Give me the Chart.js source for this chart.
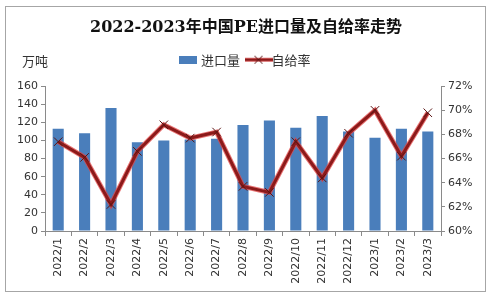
<!DOCTYPE html>
<html>
<head>
<meta charset="utf-8">
<script src="https://cdn.jsdelivr.net/npm/chart.js@4"></script>
<style>
  html, body { margin: 0; padding: 0; background: #ffffff; }
  #wrap { width: 492px; height: 300px; }
</style>
</head>
<body>
<div id="wrap"><canvas id="chart" width="492" height="300"></canvas></div>
<script>
// 2022-2023年中国PE进口量及自给率走势
const months = ['2022/1', '2022/2', '2022/3', '2022/4', '2022/5', '2022/6', '2022/7', '2022/8',
    '2022/9', '2022/10', '2022/11', '2022/12', '2023/1', '2023/2', '2023/3'];
const importVolume = [113, 108, 136, 98, 100, 101, 102, 117, 122, 114, 127, 110, 103, 113, 110]; // 万吨
const selfSufficiency = [67.4, 66.1, 62.2, 66.6, 68.8, 67.7, 68.2, 63.7, 63.2, 67.4, 64.4, 68.1, 70.0, 66.2, 69.8]; // %
const leftTicks = [0, 20, 40, 60, 80, 100, 120, 140, 160];
const rightTicks = [60, 62, 64, 66, 68, 70, 72];

const BAR_BLUE = '#4a7ebb';
const LINE_RED = '#8c1a1a';
const GLOW_RED = 'rgba(225, 70, 70, 0.75)';
const AXIS_GRAY = '#8a8a8a';
const TEXT = '#333333';
const CJK = '"Noto Sans CJK SC", "DejaVu Sans", sans-serif';

// legend icons
function barIcon() {
    const c = document.createElement('canvas');
    c.width = 18; c.height = 8;
    const g = c.getContext('2d');
    g.fillStyle = BAR_BLUE;
    g.fillRect(0, 0, 18, 8);
    return c;
}
function lineIcon() {
    const c = document.createElement('canvas');
    c.width = 28; c.height = 10;
    const g = c.getContext('2d');
    g.strokeStyle = GLOW_RED; g.lineWidth = 4;
    g.beginPath(); g.moveTo(0, 5); g.lineTo(28, 5); g.stroke();
    g.strokeStyle = LINE_RED; g.lineWidth = 2.5;
    g.beginPath(); g.moveTo(0, 5); g.lineTo(28, 5); g.stroke();
    g.strokeStyle = '#5a1414'; g.lineWidth = 1;
    g.beginPath(); g.moveTo(10, 1); g.lineTo(18, 9); g.moveTo(18, 1); g.lineTo(10, 9); g.stroke();
    return c;
}

// extra room under the legend
const legendMargin = {
    id: 'legendMargin',
    beforeInit(chart) {
        const fit = chart.legend.fit;
        chart.legend.fit = function () {
            fit.bind(chart.legend)();
            this.height += 10;
        };
    }
};

const framePlugin = {
    id: 'frame',
    beforeDraw(chart) {
        const ctx = chart.ctx;
        ctx.save();
        ctx.fillStyle = '#ffffff';
        ctx.fillRect(0, 0, chart.width, chart.height);
        ctx.strokeStyle = '#a6a6a6';
        ctx.lineWidth = 1;
        ctx.strokeRect(5.5, 6.5, 480, 285);
        ctx.restore();
    },
    afterDraw(chart) {
        const ctx = chart.ctx;
        ctx.save();
        ctx.fillStyle = TEXT;
        ctx.font = '13px ' + CJK;
        ctx.textBaseline = 'middle';
        ctx.fillText('万吨', 22, 61);
        ctx.restore();
    }
};

new Chart(document.getElementById('chart'), {
    data: {
        labels: months,
        datasets: [
            {
                type: 'line',
                label: '自给率',
                data: selfSufficiency,
                yAxisID: 'y1',
                borderColor: LINE_RED,
                borderWidth: 3,
                pointStyle: 'crossRot',
                pointRadius: 6,
                pointBorderColor: '#5a1414',
                pointBorderWidth: 1,
                tension: 0,
                order: 0
            },
            {
                type: 'line',
                label: '_glow',
                data: selfSufficiency,
                yAxisID: 'y1',
                borderColor: GLOW_RED,
                borderWidth: 5,
                pointRadius: 0,
                tension: 0,
                order: 1
            },
            {
                type: 'bar',
                label: '进口量',
                data: importVolume,
                yAxisID: 'y',
                backgroundColor: BAR_BLUE,
                categoryPercentage: 1,
                barPercentage: 0.42,
                order: 2
            }
        ]
    },
    options: {
        responsive: false,
        animation: false,
        layout: { padding: { left: 0, right: 0, top: 0, bottom: 0 } },
        plugins: {
            title: {
                display: true,
                text: '2022-2023年中国PE进口量及自给率走势',
                color: '#111111',
                font: { family: '"DejaVu Serif", "Noto Sans CJK SC", serif', size: 16, weight: 'bold' },
                padding: { top: 18, bottom: 4 }
            },
            legend: {
                display: true,
                position: 'top',
                labels: {
                    color: TEXT,
                    font: { family: CJK, size: 13 },
                    usePointStyle: true,
                    padding: 12,
                    generateLabels: (chart) => [
                        { text: '进口量', pointStyle: barIcon(), datasetIndex: 2, hidden: false, fontColor: TEXT },
                        { text: '自给率', pointStyle: lineIcon(), datasetIndex: 0, hidden: false, fontColor: TEXT }
                    ]
                }
            },
            tooltip: { enabled: false }
        },
        scales: {
            x: {
                offset: true,
                grid: { display: true, drawOnChartArea: false, drawTicks: true, tickLength: 5, offset: true, color: AXIS_GRAY },
                border: { color: AXIS_GRAY },
                ticks: {
                    color: TEXT,
                    font: { family: '"DejaVu Sans", sans-serif', size: 11 },
                    minRotation: 90,
                    maxRotation: 90,
                    autoSkip: false,
                    padding: 2
                },
                afterFit: (scale) => { scale.height = 69; }
            },
            y: {
                position: 'left',
                min: 0,
                max: 160,
                afterBuildTicks: (scale) => { scale.ticks = leftTicks.map(v => ({ value: v })); },
                grid: { display: true, drawOnChartArea: false, drawTicks: true, tickLength: 4, color: AXIS_GRAY },
                border: { color: AXIS_GRAY },
                ticks: { color: TEXT, font: { family: '"DejaVu Sans", sans-serif', size: 11 }, padding: 3 },
                afterFit: (scale) => { scale.width = 45; }
            },
            y1: {
                position: 'right',
                min: 60,
                max: 72,
                afterBuildTicks: (scale) => { scale.ticks = rightTicks.map(v => ({ value: v })); },
                grid: { display: true, drawOnChartArea: false, drawTicks: true, tickLength: 4, color: AXIS_GRAY },
                border: { color: AXIS_GRAY },
                ticks: {
                    color: TEXT,
                    font: { family: '"DejaVu Sans", sans-serif', size: 11 },
                    padding: 3,
                    callback: (v) => v + '%'
                },
                afterFit: (scale) => { scale.width = 51; }
            }
        }
    },
    plugins: [framePlugin, legendMargin]
});
</script>
</body>
</html>
